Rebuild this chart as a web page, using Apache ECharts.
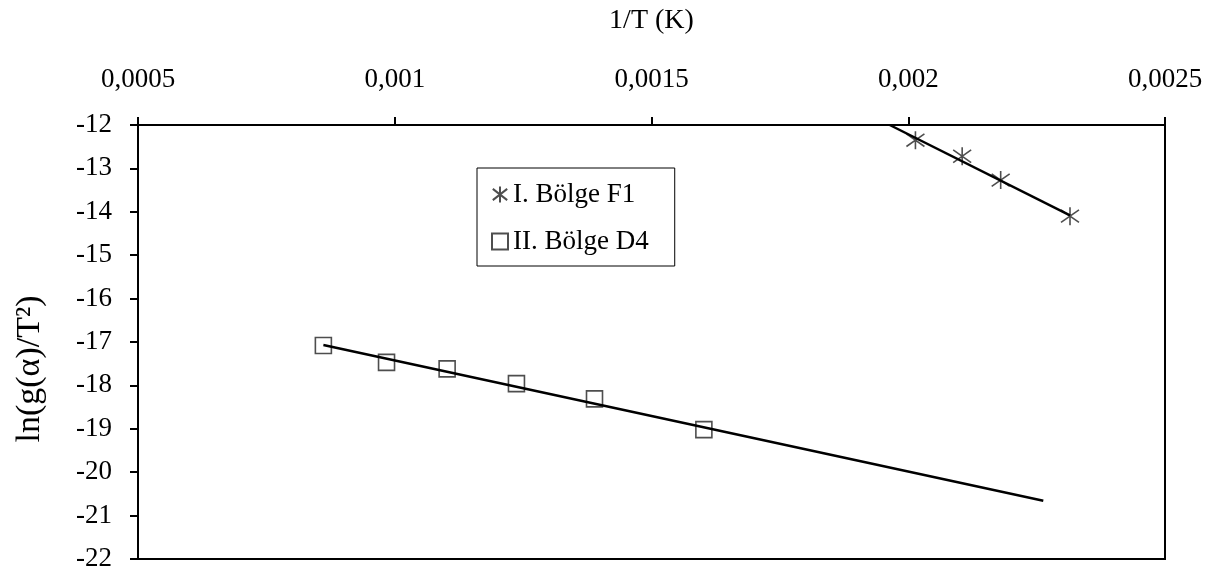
<!DOCTYPE html>
<html>
<head>
<meta charset="utf-8">
<script src="https://cdn.jsdelivr.net/npm/echarts@6/dist/echarts.min.js"></script>
<style>
html,body{margin:0;padding:0;background:#fff;}
#c{width:1230px;height:578px;}
</style>
</head>
<body>
<div id="c"></div>
<script>
// ---- data ----
const xTickLabels = ['0,0005', '0,001', '0,0015', '0,002', '0,0025'];
const seriesNames = ['I. Bölge F1', 'II. Bölge D4'];
const f1X = [0.002014, 0.002105, 0.002180, 0.002315];
const f1Y = [-12.35, -12.72, -13.27, -14.10];
const d4X = [0.000861, 0.000984, 0.001102, 0.001237, 0.001389, 0.001602];
const d4Y = [-17.08, -17.47, -17.62, -17.96, -18.31, -19.02];
const f1TrendX = [0.001964, 0.002315];
const f1TrendY = [-12.00, -14.08];
const d4TrendX = [0.000861, 0.002263];
const d4TrendY = [-17.07, -20.66];

const pairs = (xs, ys) => xs.map((x, i) => [x, ys[i]]);
const FONT = 'Liberation Serif';
const starPath = 'path://M10,0 L10,20 M1,3 L19,17 M19,3 L1,17';

const chart = echarts.init(document.getElementById('c'), null, {renderer: 'canvas'});
chart.setOption({
  animation: false,
  backgroundColor: '#fff',
  grid: {left: 138, top: 125, width: 1027, height: 434, containLabel: false, outerBoundsMode: 'none',
         show: true, borderColor: '#000', borderWidth: 2, backgroundColor: 'transparent'},
  xAxis: {
    type: 'value', position: 'top', min: 0.0005, max: 0.0025, interval: 0.0005,
    name: '1/T (K)', nameLocation: 'middle', nameGap: 90,
    nameTextStyle: {fontFamily: FONT, fontSize: 28, color: '#000'},
    axisLine: {show: true, lineStyle: {color: '#000', width: 2}},
    axisTick: {show: true, inside: false, length: 8, lineStyle: {color: '#000', width: 2}},
    axisLabel: {
      margin: 32, fontFamily: FONT, fontSize: 27, color: '#000',
      formatter: v => xTickLabels[Math.round(v / 0.0005) - 1]
    },
    splitLine: {show: false}
  },
  yAxis: {
    type: 'value', min: -22, max: -12, interval: 1,
    axisLine: {show: true, lineStyle: {color: '#000', width: 2}},
    axisTick: {show: true, inside: false, length: 8, lineStyle: {color: '#000', width: 2}},
    axisLabel: {margin: 26, fontFamily: FONT, fontSize: 27, color: '#000'},
    splitLine: {show: false}
  },
  legend: {
    data: seriesNames, orient: 'vertical', left: 477, top: 168,
    borderColor: '#000', borderWidth: 1, padding: [13, 26, 11, 14],
    itemGap: 20, itemWidth: 16, itemHeight: 16,
    textStyle: {fontFamily: FONT, fontSize: 27, color: '#000'}
  },
  graphic: [{
    type: 'text', x: 30, y: 369, rotation: Math.PI / 2,
    style: {text: 'ln(g(α)/T²)', align: 'center', verticalAlign: 'middle', font: '34px "Liberation Serif"', fill: '#000'}
  }],
  series: [
    {type: 'line', name: 'f1trend', data: pairs(f1TrendX, f1TrendY), showSymbol: false, symbol: 'none',
     lineStyle: {color: '#000', width: 2.5}, silent: true},
    {type: 'line', name: 'd4trend', data: pairs(d4TrendX, d4TrendY), showSymbol: false, symbol: 'none',
     lineStyle: {color: '#000', width: 2.5}, silent: true},
    {type: 'scatter', name: seriesNames[0], data: pairs(f1X, f1Y), symbol: starPath, symbolSize: 18,
     itemStyle: {color: 'rgba(0,0,0,0)', borderColor: '#222', borderWidth: 1.6}},
    {type: 'scatter', name: seriesNames[1], data: pairs(d4X, d4Y), symbol: 'rect', symbolSize: 16,
     itemStyle: {color: 'rgba(0,0,0,0)', borderColor: '#222', borderWidth: 1.6}}
  ]
});
</script>
</body>
</html>
